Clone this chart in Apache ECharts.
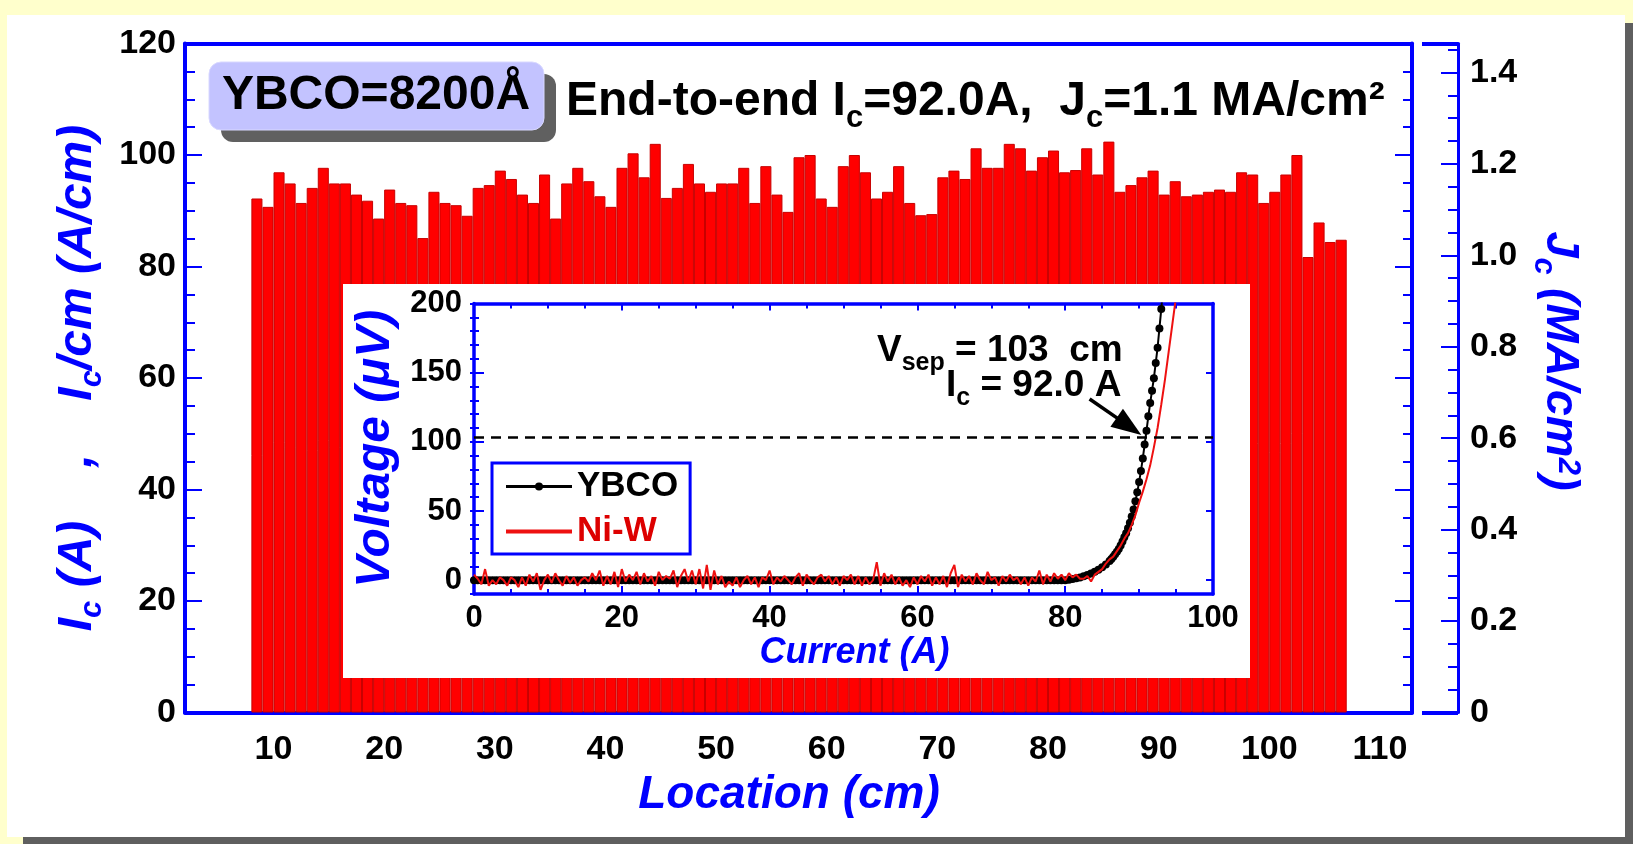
<!DOCTYPE html>
<html>
<head>
<meta charset="utf-8">
<title>YBCO Ic profile</title>
<script src="https://cdn.jsdelivr.net/npm/echarts@6/dist/echarts.min.js"></script>
<style>
  html, body { margin: 0; padding: 0; width: 1633px; height: 844px; overflow: hidden; background: #ffffcc; }
  #shadow { position: absolute; left: 23px; top: 23px; width: 1618px; height: 822px; background: #5f5f5f; }
  #panel { position: absolute; left: 7px; top: 15px; width: 1618px; height: 822px; background: #ffffff; }
  #chart { position: absolute; left: 0; top: 0; width: 1633px; height: 844px; }
</style>
</head>
<body>
<div id="shadow"></div>
<div id="panel"></div>
<div id="chart"></div>
<script>
// ---- Ic per cm along the tape (1 cm segments, centre positions in cm) ----
const segmentCenter = [
  8.5, 9.5, 10.5, 11.5, 12.5, 13.5, 14.5, 15.5, 16.5, 17.5,
  18.5, 19.5, 20.5, 21.5, 22.5, 23.5, 24.5, 25.5, 26.5, 27.5,
  28.5, 29.5, 30.5, 31.5, 32.5, 33.5, 34.5, 35.5, 36.5, 37.5,
  38.5, 39.5, 40.5, 41.5, 42.5, 43.5, 44.5, 45.5, 46.5, 47.5,
  48.5, 49.5, 50.5, 51.5, 52.5, 53.5, 54.5, 55.5, 56.5, 57.5,
  58.5, 59.5, 60.5, 61.5, 62.5, 63.5, 64.5, 65.5, 66.5, 67.5,
  68.5, 69.5, 70.5, 71.5, 72.5, 73.5, 74.5, 75.5, 76.5, 77.5,
  78.5, 79.5, 80.5, 81.5, 82.5, 83.5, 84.5, 85.5, 86.5, 87.5,
  88.5, 89.5, 90.5, 91.5, 92.5, 93.5, 94.5, 95.5, 96.5, 97.5,
  98.5, 99.5, 100.5, 101.5, 102.5, 103.5, 104.5, 105.5, 106.5
];
const icPerCm = [
  92.2, 90.7, 96.9, 94.9, 91.4, 94.1, 97.7, 94.9, 94.9, 92.9,
  91.8, 88.6, 93.8, 91.4, 91.0, 85.1, 93.4, 91.4, 91.0, 89.1,
  94.1, 94.6, 97.2, 95.7, 92.9, 91.4, 96.5, 88.6, 94.9, 97.7,
  95.3, 92.6, 90.7, 97.7, 100.3, 96.0, 102.0, 92.3, 94.1, 98.4,
  94.9, 93.4, 94.9, 94.9, 97.7, 91.4, 98.0, 92.9, 89.8, 99.6,
  100.0, 92.2, 90.7, 98.0, 100.0, 96.9, 92.2, 93.4, 98.0, 91.4,
  89.2, 89.4, 96.0, 97.2, 95.7, 101.2, 97.7, 97.7, 102.0, 101.2,
  97.2, 99.6, 100.8, 96.9, 97.3, 101.2, 96.5, 102.4, 93.4, 94.6,
  96.0, 97.2, 92.9, 95.3, 92.6, 92.9, 93.4, 93.8, 93.4, 96.9,
  96.5, 91.4, 93.4, 96.5, 100.0, 81.7, 87.9, 84.4, 84.8
];

// ---- axis tick labels ----
const locationTicks = [10, 20, 30, 40, 50, 60, 70, 80, 90, 100, 110];
const jcTicks = [0, 0.2, 0.4, 0.6, 0.8, 1.0, 1.2, 1.4];
const voltageTicks = [0, 50, 100, 150, 200];

// ---- end-to-end V(I) transport curves: [current A, voltage µV] ----
const ybcoCurve = [
  [0,0],[0.5,0],[1,0],[1.5,0],[2,0],[2.5,0],[3,0],[3.5,0],[4,0],[4.5,0],
  [5,0],[5.5,0],[6,0],[6.5,0],[7,0],[7.5,0],[8,0],[8.5,0],[9,0],[9.5,0],
  [10,0],[10.5,0],[11,0],[11.5,0],[12,0],[12.5,0],[13,0],[13.5,0],[14,0],[14.5,0],
  [15,0],[15.5,0],[16,0],[16.5,0],[17,0],[17.5,0],[18,0],[18.5,0],[19,0],[19.5,0],
  [20,0],[20.5,0],[21,0],[21.5,0],[22,0],[22.5,0],[23,0],[23.5,0],[24,0],[24.5,0],
  [25,0],[25.5,0],[26,0],[26.5,0],[27,0],[27.5,0],[28,0],[28.5,0],[29,0],[29.5,0],
  [30,0],[30.5,0],[31,0],[31.5,0],[32,0],[32.5,0],[33,0],[33.5,0],[34,0],[34.5,0],
  [35,0],[35.5,0],[36,0],[36.5,0],[37,0],[37.5,0],[38,0],[38.5,0],[39,0],[39.5,0],
  [40,0],[40.5,0],[41,0],[41.5,0],[42,0],[42.5,0],[43,0],[43.5,0],[44,0],[44.5,0],
  [45,0],[45.5,0],[46,0],[46.5,0],[47,0],[47.5,0],[48,0],[48.5,0],[49,0],[49.5,0],
  [50,0],[50.5,0],[51,0],[51.5,0],[52,0],[52.5,0],[53,0],[53.5,0],[54,0],[54.5,0],
  [55,0],[55.5,0],[56,0],[56.5,0],[57,0],[57.5,0],[58,0],[58.5,0],[59,0],[59.5,0],
  [60,0],[60.5,0],[61,0],[61.5,0],[62,0],[62.5,0],[63,0],[63.5,0],[64,0],[64.5,0],
  [65,0],[65.5,0],[66,0],[66.5,0],[67,0],[67.5,0],[68,0],[68.5,0],[69,0],[69.5,0],
  [70,0],[70.5,0],[71,0],[71.5,0],[72,0],[72.5,0],[73,0],[73.5,0],[74,0],[74.5,0],
  [75,0],[75.5,0],[76,0],[76.5,0],[77,0],[77.5,0],[78,0],[78.5,0],[79,0],[79.5,0],
  [80,0],[80.5,0.3],[81,0.8],[81.5,1.3],[82,2],[82.5,2.8],[83,3.8],[83.5,4.9],
  [84,6],[84.5,7.5],[85,9.3],[85.5,11.3],[86,13.8],[86.25,15.3],[86.5,17],
  [86.75,18.8],[87,20.5],[87.25,22.6],[87.5,25],[87.75,28],[88,31],[88.25,34],
  [88.5,37.5],[88.75,41.5],[89,46],[89.25,51],[89.5,57],[89.75,63.5],[90,71],
  [90.25,79],[90.5,88],[90.75,98],[91,108],[91.25,118.5],[91.5,128],[91.75,137],
  [92,146],[92.25,157],[92.5,168],[92.75,182],[93,196],[93.25,212]
];
const niwCurve = [
  [0,4],[0.5,1],[1,-3],[1.5,8],[2,-4],[2.5,0],[3,-3],[3.5,2],[4,0],[4.5,-4],
  [5,2],[5.5,0],[6,-5],[6.5,2],[7,-4],[7.5,4],[8,-1],[8.5,5],[9,-7],[9.5,0],
  [10,4],[10.5,-2],[11,5],[11.5,0],[12,-4],[12.5,3],[13,-2],[13.5,2],[14,-4],[14.5,0],
  [15,2],[15.5,-1],[16,5],[16.5,0],[17,7],[17.5,-4],[18,3],[18.5,-3],[19,6],[19.5,-5],
  [20,8],[20.5,-1],[21,4],[21.5,0],[22,6],[22.5,-3],[23,5],[23.5,-1],[24,3],[24.5,-4],
  [25,6],[25.5,0],[26,3],[26.5,1],[27,7],[27.5,-5],[28,3],[28.5,8],[29,-1],[29.5,7],
  [30,-3],[30.5,8],[31,-6],[31.5,11],[32,-7],[32.5,7],[33,-3],[33.5,3],[34,-5],[34.5,-1],
  [35,-4],[35.5,2],[36,-5],[36.5,0],[37,3],[37.5,-3],[38,2],[38.5,-5],[39,2],[39.5,0],
  [40,7],[40.5,-3],[41,2],[41.5,-1],[42,3],[42.5,0],[43,-3],[43.5,2],[44,5],[44.5,-4],
  [45,4],[45.5,0],[46,-3],[46.5,2],[47,4],[47.5,-1],[48,3],[48.5,-3],[49,2],[49.5,-4],
  [50,3],[50.5,0],[51,4],[51.5,-3],[52,3],[52.5,-4],[53,2],[53.5,-3],[54,0],[54.5,13],
  [55,-4],[55.5,5],[56,-1],[56.5,4],[57,-3],[57.5,2],[58,-4],[58.5,0],[59,-5],[59.5,2],
  [60,-3],[60.5,3],[61,-1],[61.5,4],[62,-4],[62.5,2],[63,-3],[63.5,3],[64,-5],[64.5,5],
  [65,11],[65.5,-5],[66,4],[66.5,-1],[67,3],[67.5,-3],[68,5],[68.5,0],[69,-3],[69.5,6],
  [70,0],[70.5,2],[71,-4],[71.5,3],[72,-1],[72.5,4],[73,0],[73.5,2],[74,-3],[74.5,2],
  [75,-4],[75.5,2],[76,-1],[76.5,7],[77,-3],[77.5,4],[78,-1],[78.5,5],[79,1],[79.5,4],
  [80,0],[80.5,5],[81,2],[81.5,4],[82,1],[82.5,1],[83,3],[83.5,-1],[84,4],[84.5,6],
  [85,8],[85.5,12],[86,15],[86.5,17],[87,21],[87.5,25],[88,30],[88.5,34],[89,40],
  [89.5,47],[90,56],[90.5,64],[91,73],[91.5,83],[92,96],[92.5,110],[93,127],
  [93.5,145],[94,165],[94.5,185],[95,205]
];
const criterionVoltage = 103;      // µV, 1 µV/cm over the 103 cm tap separation
const arrowFrom = [83.3, 131];     // annotation arrow, data coordinates of the inset
const arrowTo = [90.3, 105];

// ---- scales ----
const ICM_MAX = 120;                                // A/cm
const YBCO_THICKNESS_CM = 8200e-8;                  // 8200 Å
const JC_MAX = ICM_MAX / YBCO_THICKNESS_CM / 1e6;   // MA/cm² at the top of the Ic axis

const FONT = '"Liberation Sans", Arial, Helvetica, sans-serif';
const BLUE = '#0000ff';

// rich styles for a sub/superscripted axis title (ECharts label style)
function titleRich(size, subSize, color) {
  const base = { fontSize: size, fontWeight: 'bold', fontStyle: 'italic', color: color,
                 fontFamily: FONT, lineHeight: size, verticalAlign: 'top' };
  return {
    t: base,
    s: Object.assign({}, base, { fontSize: subSize, lineHeight: subSize,
                                 padding: [Math.round(size * 0.5), 0, 0, 0] }),
    p: Object.assign({}, base, { fontSize: subSize, lineHeight: subSize,
                                 padding: [0, 0, 0, 0] })
  };
}
// rich styles for zrender graphic text
function graphicRich(size, subSize) {
  const base = { fontSize: size, fontWeight: 'bold', fontFamily: FONT, fill: '#000',
                 lineHeight: size, verticalAlign: 'top' };
  return {
    t: base,
    s: Object.assign({}, base, { fontSize: subSize, lineHeight: subSize,
                                 padding: [Math.round(size * 0.52), 0, 0, 0] })
  };
}

const tickLabel = { fontSize: 34, fontWeight: 'bold', color: '#000', fontFamily: FONT };
const insetLabel = { fontSize: 31, fontWeight: 'bold', color: '#000', fontFamily: FONT };
const noSplit = { show: false };

const chart = echarts.init(document.getElementById('chart'), null, { renderer: 'canvas' });

const option = {
  animation: false,
  backgroundColor: 'transparent',
  textStyle: { fontFamily: FONT },
  grid: [
    { left: 185, top: 43.5, width: 1227, height: 669 },
    { left: 474, top: 303.5, width: 739, height: 290.5 }
  ],
  xAxis: [
    { // location, bottom
      gridIndex: 0, type: 'value', position: 'bottom', min: 2, max: 112.9,
      axisLine: { show: true, onZero: false, lineStyle: { color: BLUE, width: 4 } },
      axisTick: { show: false }, splitLine: noSplit,
      axisLabel: Object.assign({ customValues: locationTicks, margin: 20 }, tickLabel),
      name: 'Location (cm)', nameLocation: 'middle', nameGap: 60,
      nameTextStyle: { fontSize: 46, fontWeight: 'bold', fontStyle: 'italic', color: BLUE,
                       fontFamily: FONT, padding: [0, 19, 0, 0] }
    },
    { // location, top frame
      gridIndex: 0, type: 'value', position: 'top', min: 2, max: 112.9,
      axisLine: { show: true, onZero: false, lineStyle: { color: BLUE, width: 4 } },
      axisTick: { show: false }, axisLabel: { show: false }, splitLine: noSplit
    },
    { // inset current, bottom
      gridIndex: 1, type: 'value', position: 'bottom', min: 0, max: 100, interval: 20, z: 20,
      axisLine: { show: true, onZero: false, lineStyle: { color: BLUE, width: 3.5 } },
      axisTick: { inside: true, length: 8, lineStyle: { color: BLUE, width: 2 } },
      minorTick: { show: true, splitNumber: 4, length: 5, lineStyle: { color: BLUE, width: 2 } },
      axisLabel: Object.assign({ margin: 9 }, insetLabel), splitLine: noSplit, minorSplitLine: noSplit,
      name: 'Current (A)', nameLocation: 'middle', nameGap: 40,
      nameTextStyle: { fontSize: 36, fontWeight: 'bold', fontStyle: 'italic', color: BLUE,
                       fontFamily: FONT, padding: [0, 0, 0, 22] }
    },
    { // inset current, top frame
      gridIndex: 1, type: 'value', position: 'top', min: 0, max: 100, interval: 20, z: 20,
      axisLine: { show: true, onZero: false, lineStyle: { color: BLUE, width: 3.5 } },
      axisTick: { inside: true, length: 7, lineStyle: { color: BLUE, width: 2 } },
      minorTick: { show: true, splitNumber: 4, length: 5, lineStyle: { color: BLUE, width: 2 } },
      axisLabel: { show: false }, splitLine: noSplit, minorSplitLine: noSplit
    }
  ],
  yAxis: [
    { // Ic per cm, left
      gridIndex: 0, type: 'value', position: 'left', min: 0, max: ICM_MAX, interval: 20,
      axisLine: { show: true, lineStyle: { color: BLUE, width: 4 } },
      axisTick: { inside: true, length: 17, lineStyle: { color: BLUE, width: 2 } },
      minorTick: { show: true, splitNumber: 4, length: 10, lineStyle: { color: BLUE, width: 2 } },
      axisLabel: Object.assign({ margin: 9 }, tickLabel), splitLine: noSplit, minorSplitLine: noSplit,
      name: '{t|I}{s|c}{t| (A)    ,    I}{s|c}{t|/cm (A/cm)}',
      nameLocation: 'middle', nameRotate: 90, nameGap: 79,
      nameTextStyle: { rich: titleRich(48, 31, BLUE) }
    },
    { // Ic per cm, right frame
      gridIndex: 0, type: 'value', position: 'right', min: 0, max: ICM_MAX, interval: 20,
      axisLine: { show: true, lineStyle: { color: BLUE, width: 4 } },
      axisTick: { inside: true, length: 17, lineStyle: { color: BLUE, width: 2 } },
      minorTick: { show: true, splitNumber: 4, length: 9, lineStyle: { color: BLUE, width: 2 } },
      axisLabel: { show: false }, splitLine: noSplit, minorSplitLine: noSplit
    },
    { // Jc, major ticks and labels
      gridIndex: 0, type: 'value', position: 'right', offset: 46, min: 0, max: JC_MAX,
      axisLine: { show: true, lineStyle: { color: BLUE, width: 3 } },
      axisTick: { inside: true, length: 17, customValues: jcTicks, lineStyle: { color: BLUE, width: 2 } },
      axisLabel: Object.assign({ customValues: jcTicks, margin: 12,
                                 formatter: v => (v === 0 ? '0' : v.toFixed(1)) }, tickLabel),
      splitLine: noSplit,
      name: '{t|J}{s|c}{t| (MA/cm}{p|2}{t|)}', nameLocation: 'middle', nameRotate: -90, nameGap: 74,
      nameTextStyle: { rich: titleRich(47, 31, BLUE), padding: [0, 34, 0, 0] }
    },
    { // Jc, minor ticks
      gridIndex: 0, type: 'value', position: 'right', offset: 46, min: 0, max: JC_MAX, interval: 0.05,
      axisLine: { show: false },
      axisTick: { inside: true, length: 10, lineStyle: { color: BLUE, width: 2 } },
      axisLabel: { show: false }, splitLine: noSplit
    },
    { // Jc, end brackets
      gridIndex: 0, type: 'value', position: 'right', offset: 46, min: 0, max: JC_MAX,
      axisLine: { show: false },
      axisTick: { inside: true, length: 36, customValues: [0, JC_MAX], lineStyle: { color: BLUE, width: 4 } },
      axisLabel: { show: false }, splitLine: noSplit
    },
    { // inset voltage, left, major
      gridIndex: 1, type: 'value', position: 'left', min: -10, max: 200, z: 20,
      axisLine: { show: true, onZero: false, lineStyle: { color: BLUE, width: 3.5 } },
      axisTick: { inside: true, length: 10, customValues: voltageTicks, lineStyle: { color: BLUE, width: 2 } },
      axisLabel: Object.assign({ customValues: voltageTicks, margin: 12 }, insetLabel),
      splitLine: noSplit,
      name: 'Voltage (μV)', nameLocation: 'middle', nameRotate: 90, nameGap: 74,
      nameTextStyle: { fontSize: 48, fontWeight: 'bold', fontStyle: 'italic', color: BLUE, fontFamily: FONT }
    },
    { // inset voltage, left, minor
      gridIndex: 1, type: 'value', position: 'left', min: -10, max: 200, interval: 10, z: 20,
      axisLine: { show: false },
      axisTick: { inside: true, length: 5, lineStyle: { color: BLUE, width: 2 } },
      axisLabel: { show: false }, splitLine: noSplit
    },
    { // inset voltage, right, major
      gridIndex: 1, type: 'value', position: 'right', min: -10, max: 200, z: 20,
      axisLine: { show: true, onZero: false, lineStyle: { color: BLUE, width: 3.5 } },
      axisTick: { inside: true, length: 7, customValues: voltageTicks, lineStyle: { color: BLUE, width: 2 } },
      axisLabel: { show: false }, splitLine: noSplit
    },
    { // inset voltage, right, minor
      gridIndex: 1, type: 'value', position: 'right', min: -10, max: 200, interval: 10, z: 20,
      axisLine: { show: false },
      axisTick: { inside: true, length: 4, lineStyle: { color: BLUE, width: 2 } },
      axisLabel: { show: false }, splitLine: noSplit
    }
  ],
  legend: {
    data: [
      { name: 'YBCO', textStyle: { color: '#000000' }, lineStyle: { width: 3 } },
      { name: 'Ni-W', textStyle: { color: '#dd0000' }, lineStyle: { width: 4 },
        itemStyle: { opacity: 0, borderWidth: 0 } }
    ],
    orient: 'vertical', left: 492, top: 463, z: 30, selectedMode: false,
    itemWidth: 66, itemHeight: 10, itemGap: 10,
    padding: [6, 12, 5, 12],
    borderColor: BLUE, borderWidth: 3, backgroundColor: '#ffffff',
    textStyle: { fontSize: 35, fontWeight: 'bold', fontFamily: FONT }
  },
  series: [
    {
      name: 'Ic/cm', type: 'bar', xAxisIndex: 0, yAxisIndex: 0, z: 2,
      data: segmentCenter.map((x, i) => [x, icPerCm[i]]),
      barWidth: '100%',
      itemStyle: { color: '#ff0000', borderColor: '#c80000', borderWidth: 1 }
    },
    {
      name: 'YBCO', type: 'line', xAxisIndex: 2, yAxisIndex: 5, z: 22,
      data: ybcoCurve,
      symbol: 'circle', symbolSize: 8, showSymbol: true,
      itemStyle: { color: '#000000' },
      lineStyle: { color: '#000000', width: 2 },
      markLine: {
        z: 24, silent: true, animation: false, symbol: ['none', 'none'],
        label: { show: false },
        data: [
          { yAxis: criterionVoltage, lineStyle: { type: [10, 7], color: '#000000', width: 2.5 } }
        ]
      }
    },
    {
      name: 'Ni-W', type: 'line', xAxisIndex: 2, yAxisIndex: 5, z: 23,
      data: niwCurve, symbol: 'none',
      itemStyle: { color: '#ee1111' },
      lineStyle: { color: '#ee1111', width: 2 }
    }
  ],
  graphic: [
    { // inset backdrop
      id: 'insetBack', type: 'rect', z: 10, silent: true,
      shape: { x: 343, y: 284, width: 907, height: 394 },
      style: { fill: '#ffffff' }
    },
    { // label box shadow
      id: 'boxShadow', type: 'rect', z: 11, silent: true,
      shape: { x: 221, y: 74, width: 335, height: 68, r: 12 },
      style: { fill: '#606060' }
    },
    { // label box
      id: 'box', type: 'rect', z: 12, silent: true,
      shape: { x: 209, y: 62, width: 335, height: 68, r: 12 },
      style: { fill: '#c3c3ff', stroke: '#d8d8ff', lineWidth: 1 }
    },
    {
      id: 'boxText', type: 'text', z: 13, silent: true, x: 376, y: 96,
      style: { text: 'YBCO=8200Å', font: 'bold 48px ' + FONT, fill: '#000',
               align: 'center', verticalAlign: 'middle' }
    },
    {
      id: 'summary', type: 'text', z: 13, silent: true, x: 566, y: 78,
      style: { text: '{t|End-to-end I}{s|c}{t|=92.0A,  J}{s|c}{t|=1.1 MA/cm²}',
               rich: graphicRich(48, 31), align: 'left', verticalAlign: 'top' }
    },
    {
      id: 'vsep', type: 'text', z: 25, silent: true, x: 877, y: 332,
      style: { text: '{t|V}{s|sep}{t| = 103  cm}', rich: graphicRich(37, 25),
               align: 'left', verticalAlign: 'top' }
    },
    {
      id: 'icText', type: 'text', z: 25, silent: true, x: 946, y: 367,
      style: { text: '{t|I}{s|c}{t| = 92.0 A}', rich: graphicRich(37, 25),
               align: 'left', verticalAlign: 'top' }
    }
  ]
};

chart.setOption(option);

// annotation arrow: endpoints mapped through the inset axes
(function drawArrow() {
  const a = chart.convertToPixel({ seriesIndex: 1 }, arrowFrom);
  const b = chart.convertToPixel({ seriesIndex: 1 }, arrowTo);
  const dx = b[0] - a[0], dy = b[1] - a[1];
  const len = Math.hypot(dx, dy);
  const ux = dx / len, uy = dy / len;
  const headLen = 30, headHalf = 11;
  const bx = b[0] - ux * headLen, by = b[1] - uy * headLen;
  chart.setOption({
    graphic: [
      { id: 'arrowShaft', type: 'line', z: 26, silent: true,
        shape: { x1: a[0], y1: a[1], x2: bx + ux * 2, y2: by + uy * 2 },
        style: { stroke: '#000', lineWidth: 3.5 } },
      { id: 'arrowHead', type: 'polygon', z: 26, silent: true,
        shape: { points: [[b[0], b[1]],
                          [bx - uy * headHalf, by + ux * headHalf],
                          [bx + uy * headHalf, by - ux * headHalf]] },
        style: { fill: '#000' } }
    ]
  });
})();
</script>
</body>
</html>
